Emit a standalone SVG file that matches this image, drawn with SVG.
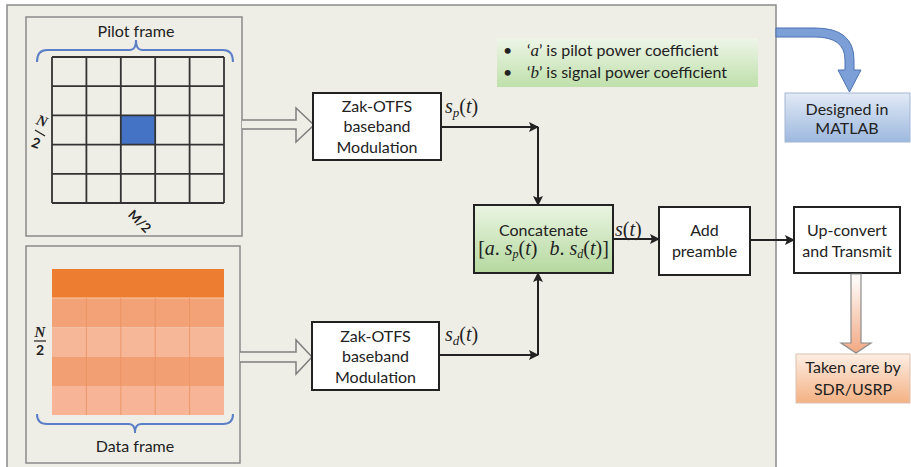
<svg xmlns="http://www.w3.org/2000/svg" width="911" height="467" viewBox="0 0 911 467">
<defs>
<style>
.lbl{font-family:Lato,"Liberation Sans",sans-serif;font-size:16px;fill:#222;text-anchor:middle}
.small{font-family:Lato,"Liberation Sans",sans-serif;font-size:16px;fill:#222}
.math{font-family:"Liberation Serif","DejaVu Serif",serif;font-size:20px;fill:#222}
.box{fill:#fff;stroke:#222;stroke-width:2}
.frame{fill:#efeee6;stroke:#8a8a8a;stroke-width:1.5}
.grid{stroke:#333;stroke-width:1.8;fill:none}
.brace{fill:none;stroke:#5b7fc7;stroke-width:2}
.hollow{fill:#efeee6;stroke:#7f7f7f;stroke-width:1.5}
.conn{stroke:#222;stroke-width:2;fill:none}
</style>
<marker id="ah" viewBox="0 0 10 10" refX="9" refY="5" markerWidth="5" markerHeight="5" orient="auto" markerUnits="strokeWidth">
<path d="M0,0 L10,5 L0,10 L2,5 Z" fill="#222"/>
</marker>
<linearGradient id="gGreen" x1="0" y1="0" x2="0" y2="1">
<stop offset="0" stop-color="#eaf4e2"/><stop offset="1" stop-color="#b5d99f"/>
</linearGradient>
<linearGradient id="gNote" x1="0" y1="0" x2="0" y2="1">
<stop offset="0" stop-color="#eef5e8"/><stop offset="1" stop-color="#bfe0ab"/>
</linearGradient>
<linearGradient id="gBlue" x1="0" y1="0" x2="0" y2="1">
<stop offset="0" stop-color="#e2eaf5"/><stop offset="1" stop-color="#9db8df"/>
</linearGradient>
<linearGradient id="gOrange" x1="0" y1="0" x2="0" y2="1">
<stop offset="0" stop-color="#fdeee4"/><stop offset="1" stop-color="#f4b183"/>
</linearGradient>
<linearGradient id="gArrowO" x1="0" y1="0" x2="0" y2="1">
<stop offset="0" stop-color="#ffffff"/><stop offset="1" stop-color="#f2a983"/>
</linearGradient>
</defs>

<rect width="911" height="467" fill="#fff"/>
<rect id="panel" x="7" y="5" width="769" height="470" class="frame"/>

<g id="pilot-frame">
<rect x="26" y="17" width="216" height="219" class="frame"/>
<text class="lbl" x="136" y="37">Pilot frame</text>
<path class="brace" d="M37,62 Q37,50 47,50 L130,50 Q136,50 136,40 Q136,50 142,50 L223,50 Q233,50 233,62"/>
<rect x="120.8" y="115.4" width="34.4" height="29.2" fill="#4472c4"/>
<path class="grid" d="M52,57 H224 M52,86.2 H224 M52,115.4 H224 M52,144.6 H224 M52,173.8 H224 M52,203 H224 M52,57 V203 M86.4,57 V203 M120.8,57 V203 M155.2,57 V203 M189.6,57 V203 M224,57 V203"/>
<text x="42" y="126" transform="rotate(20 42 121)" font-family="'Liberation Serif',serif" font-style="italic" font-weight="bold" font-size="15" fill="#222" text-anchor="middle">N</text>
<line x1="35" y1="130" x2="45" y2="136" stroke="#222" stroke-width="1.4"/>
<text x="36" y="148" transform="rotate(20 36 143)" font-family="Lato,sans-serif" font-weight="bold" font-size="14" fill="#222" text-anchor="middle">2</text>
<text x="140" y="226" transform="rotate(45 140 221)" font-family="Lato,sans-serif" font-weight="bold" font-size="13" fill="#222" text-anchor="middle">M/2</text>
</g>

<g id="data-frame">
<rect x="26" y="246" width="214" height="217" class="frame"/>
<rect x="52" y="269" width="172" height="29" fill="#ed7d31"/>
<rect x="52" y="298" width="172" height="29.5" fill="#f3a278"/>
<rect x="52" y="327.5" width="172" height="29.5" fill="#f6b799"/>
<rect x="52" y="357" width="172" height="29" fill="#f29f74"/>
<rect x="52" y="386" width="172" height="29" fill="#f7b496"/>
<line x1="52" y1="298" x2="224" y2="298" stroke="#f8c9a8" stroke-width="1"/>
<path d="M86.4,298 V415 M120.8,298 V415 M155.2,298 V415 M189.6,298 V415" stroke="#e8915f" stroke-width="0.8" fill="none"/>
<path class="brace" d="M37,414 Q37,424 47,424 L129,424 Q135,424 135,433 Q135,424 141,424 L223,424 Q233,424 233,414"/>
<text class="lbl" x="135" y="452">Data frame</text>
<text x="40" y="337" font-family="'Liberation Serif',serif" font-style="italic" font-weight="bold" font-size="15" fill="#222" text-anchor="middle">N</text>
<line x1="34" y1="341" x2="46" y2="341" stroke="#222" stroke-width="1.2"/>
<text x="40" y="355" font-family="Lato,sans-serif" font-weight="bold" font-size="14" fill="#222" text-anchor="middle">2</text>
</g>

<g id="hollow-arrows">
<path class="hollow" d="M242,120 L296,120 L296,108 L314,125 L296,142 L296,129 L242,129"/>
<path class="hollow" d="M240,352 L296,352 L296,340 L312,357 L296,374 L296,362 L240,362"/>
</g>

<g id="zak1">
<rect x="313" y="93" width="128" height="67" class="box"/>
<text class="lbl" x="377" y="112">Zak-OTFS</text>
<text class="lbl" x="377" y="132">baseband</text>
<text class="lbl" x="377" y="153">Modulation</text>
</g>

<g id="zak2">
<rect x="312" y="322" width="127" height="68" class="box"/>
<text class="lbl" x="375.5" y="342">Zak-OTFS</text>
<text class="lbl" x="375.5" y="362">baseband</text>
<text class="lbl" x="375.5" y="383">Modulation</text>
</g>

<g id="concatenate">
<rect x="474" y="205" width="139" height="68" fill="url(#gGreen)" stroke="#222" stroke-width="2"/>
<text class="lbl" x="543.5" y="236">Concatenate</text>
<text class="math" x="543.5" y="255" text-anchor="middle" font-size="18">[<tspan font-style="italic">a</tspan>. <tspan font-style="italic">s</tspan><tspan font-style="italic" font-size="12" dy="3">p</tspan><tspan dy="-3">(</tspan><tspan font-style="italic">t</tspan>)<tspan dx="12" font-style="italic">b</tspan>. <tspan font-style="italic">s</tspan><tspan font-style="italic" font-size="12" dy="3">d</tspan><tspan dy="-3">(</tspan><tspan font-style="italic">t</tspan>)]</text>
</g>

<g id="add-preamble">
<rect x="659" y="207" width="91" height="68" class="box"/>
<text class="lbl" x="704.5" y="236">Add</text>
<text class="lbl" x="704.5" y="257">preamble</text>
</g>

<g id="upconvert">
<rect x="794" y="207" width="106" height="66" class="box"/>
<text class="lbl" x="847" y="236">Up-convert</text>
<text class="lbl" x="847" y="257">and Transmit</text>
</g>

<g id="note">
<rect x="497" y="38" width="261" height="49" fill="url(#gNote)"/>
<text class="small" x="503" y="56" font-size="14">•</text>
<text class="small" x="527" y="56">‘<tspan font-family="'Liberation Serif',serif" font-style="italic" font-size="17">a</tspan>’ is pilot power coefficient</text>
<text class="small" x="503" y="78" font-size="14">•</text>
<text class="small" x="527" y="78">‘<tspan font-family="'Liberation Serif',serif" font-style="italic" font-size="17">b</tspan>’ is signal power coefficient</text>
</g>

<g id="matlab">
<rect x="785" y="93" width="125" height="49" fill="url(#gBlue)" stroke="#a3b6d3" stroke-width="1"/>
<text class="lbl" x="847" y="115">Designed in</text>
<text class="lbl" x="847" y="134">MATLAB</text>
</g>

<g id="sdr">
<rect x="796" y="354" width="114" height="49" fill="url(#gOrange)" stroke="#d9c2b2" stroke-width="1"/>
<text class="lbl" x="853" y="373">Taken care by</text>
<text class="lbl" x="853" y="395">SDR/USRP</text>
</g>

<g id="connectors">
<line class="conn" x1="441" y1="127" x2="538" y2="127" marker-end="url(#ah)"/>
<line class="conn" x1="538" y1="127" x2="538" y2="205" marker-end="url(#ah)"/>
<line class="conn" x1="439" y1="355" x2="538" y2="355" marker-end="url(#ah)"/>
<line class="conn" x1="538" y1="355" x2="538" y2="273" marker-end="url(#ah)"/>
<line class="conn" x1="613" y1="239" x2="659" y2="239" marker-end="url(#ah)"/>
<line class="conn" x1="750" y1="240" x2="794" y2="240" marker-end="url(#ah)"/>
<path d="M776,28 L815,28 Q854,28 854,60 L854,70 L861,70 L849.5,92 L838,70 L845,70 L845,60 Q845,37 815,37 L776,37 Z" fill="#7b9fd6" stroke="#4f73b3" stroke-width="1"/>
<path d="M851,274 L861,274 L861,343 L871,343 L856,353 L841,343 L851,343 Z" fill="url(#gArrowO)" stroke="#8c8c8c" stroke-width="1.2"/>
<text class="math" x="445" y="113"><tspan font-style="italic">s</tspan><tspan font-style="italic" font-size="13" dy="4">p</tspan><tspan dy="-4">(</tspan><tspan font-style="italic">t</tspan>)</text>
<text class="math" x="445" y="341"><tspan font-style="italic">s</tspan><tspan font-style="italic" font-size="13" dy="4">d</tspan><tspan dy="-4">(</tspan><tspan font-style="italic">t</tspan>)</text>
<text class="math" x="615" y="236"><tspan font-style="italic">s</tspan>(<tspan font-style="italic">t</tspan>)</text>
</g>
</svg>
